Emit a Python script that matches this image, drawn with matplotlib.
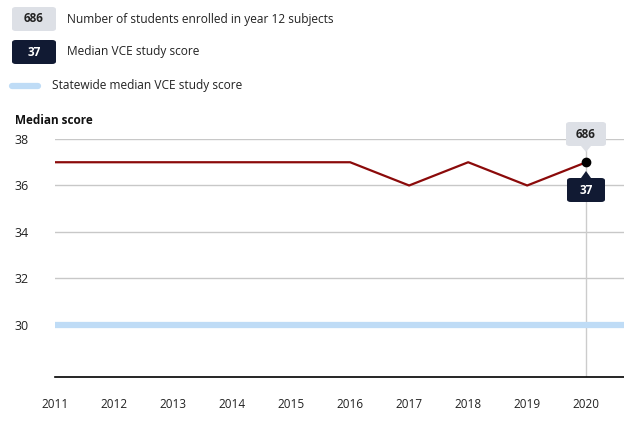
import matplotlib
matplotlib.use("Agg")
import matplotlib.pyplot as plt
from matplotlib.patches import FancyBboxPatch
import numpy as np

plt.rcParams["font.family"] = ["Open Sans", "DejaVu Sans"]

years = [2011, 2012, 2013, 2014, 2015, 2016, 2017, 2018, 2019, 2020]
median_score = [37, 37, 37, 37, 37, 37, 36, 37, 36, 37]
statewide_median = [30] * len(years)
enrolled_2020 = 686
y_ticks = [30, 32, 34, 36, 38]

RED = "#8b0a0a"
NAVY = "#111a33"
GRAYBOX = "#dde0e6"
BLUE = "#bfdcf6"

W, H = 624, 423
fig = plt.figure(figsize=(W / 100, H / 100), dpi=100)


def px(x, y):
    # pixel coords (top-left origin) to figure fraction
    return x / W, 1 - y / H


ax = fig.add_axes([55 / W, (H - 377) / H, 1 - 55 / W, (377 - 139) / H])
ax.set_xlim(2011, 2020.64)
ax.set_ylim(27.76, 38)

for t in y_ticks:
    ax.axhline(t, color="#c8c8c8", lw=1, zorder=1)
ax.plot([2011, 2020.64], [statewide_median[0]] * 2, color=BLUE, lw=4.5,
        solid_capstyle="butt", zorder=2)
ax.plot(years, median_score, color=RED, lw=1.6, zorder=3)
ax.axvline(years[-1], color="#cccccc", lw=1, ymax=(377 - 150) / (377 - 139), zorder=1)
ax.plot(years[-1], median_score[-1], "o", color="black", ms=6, zorder=5)

for s in ["top", "right", "left"]:
    ax.spines[s].set_visible(False)
ax.spines["bottom"].set_color("black")
ax.spines["bottom"].set_linewidth(1.2)
ax.set_yticks(y_ticks)
ax.set_xticks(years)
ax.tick_params(axis="y", length=0, labelsize=9, labelcolor="#222222")
ax.tick_params(axis="x", length=0, pad=15, labelsize=8.5, labelcolor="#222222")
for lab in ax.get_yticklabels():
    lab.set_horizontalalignment("left")
ax.yaxis.set_tick_params(pad=29)

fig.text(*px(15, 120), "Median score", fontsize=8.5, fontweight="bold",
         va="center", ha="left", color="#111111")


def box(x0, y0, w, h, color, text, tcolor):
    fx, fy = px(x0, y0 + h)
    p = FancyBboxPatch((fx, fy), w / W, h / H, boxstyle="round,pad=0,rounding_size=0.006",
                       transform=fig.transFigure, fc=color, ec="none", zorder=10)
    fig.add_artist(p)
    fig.text(*px(x0 + w / 2, y0 + h / 2), text, fontsize=8.5, fontweight="bold",
             ha="center", va="center", color=tcolor, zorder=11)


# legend
box(12, 7, 44, 24, GRAYBOX, str(enrolled_2020), "#222222")
fig.text(*px(67, 19), "Number of students enrolled in year 12 subjects", fontsize=8.6,
         va="center", color="#222222")
box(12, 40, 44, 24, NAVY, str(median_score[-1]), "white")
fig.text(*px(67, 52), "Median VCE study score", fontsize=8.6, va="center", color="#222222")
fig.add_artist(plt.Line2D([12 / W, 38 / W], [1 - 86 / H] * 2, transform=fig.transFigure,
                          color=BLUE, lw=4.5, solid_capstyle="round"))
fig.text(*px(52, 86), "Statewide median VCE study score", fontsize=8.6, va="center",
         color="#222222")

# tooltip at last point
box(566, 122, 40, 24, GRAYBOX, str(enrolled_2020), "#222222")
fig.add_artist(plt.Polygon([px(581, 146), px(591, 146), px(586, 152)], closed=True,
                           transform=fig.transFigure, fc=GRAYBOX, ec="none"))
box(567, 178, 38, 24, NAVY, str(median_score[-1]), "white")
fig.add_artist(plt.Polygon([px(581, 178), px(591, 178), px(586, 171)], closed=True,
                           transform=fig.transFigure, fc=NAVY, ec="none"))

fig.savefig("out.png", dpi=100)
